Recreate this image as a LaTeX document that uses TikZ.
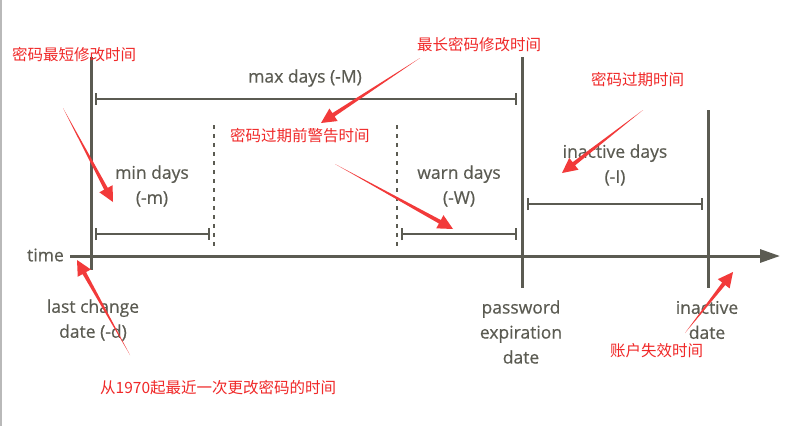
\documentclass[tikz,border=0pt]{standalone}
\usepackage{fontspec}
\setmainfont{Open Sans}
\newfontfamily\lblfont{Open Sans}[FakeBold=0.5]
\newfontfamily\cjk{Noto Sans CJK SC}
\usetikzlibrary{calc,arrows.meta}
\definecolor{axgray}{HTML}{5B5B52}
\definecolor{redtxt}{HTML}{F02828}
\definecolor{redarr}{HTML}{F23A3A}
\newcommand{\RedArrow}[2]{%
  \coordinate (hb) at ($(#2)!15pt!(#1)$);
  \fill[redarr] (#1) -- ($(hb)!2pt!90:(#2)$) -- ($(hb)!7.5pt!90:(#2)$) -- (#2)
    -- ($(hb)!7.5pt!-90:(#2)$) -- ($(hb)!2pt!-90:(#2)$) -- cycle;}
\begin{document}
\begin{tikzpicture}[x=1pt,y=-1pt,
  axis/.style={draw=axgray,line width=3pt},
  bar/.style={draw=axgray,line width=2pt,{Bar[width=12pt]}-{Bar[width=12pt]}},
  dots/.style={draw=axgray,line width=2pt,dash pattern=on 4pt off 5pt},
  lbl/.style={text=axgray,font=\lblfont\fontsize{17.5}{25}\selectfont,align=center,inner sep=0pt},
  note/.style={text=redtxt,font=\cjk\fontsize{15.5}{18}\selectfont,inner sep=0pt,anchor=west},
]
\useasboundingbox (0,0) rectangle (799,426);
\fill[white] (0,0) rectangle (799,426);
\draw[gray!55, line width=2pt] (1,0) -- (1,426);

% time axis
\coordinate (t0) at (70,256);
\coordinate (t1) at (780,256);
\draw[axis,-{Triangle[length=20pt,width=13pt]}] (t0) -- (t1);

% vertical markers
\coordinate (v1a) at (91,57);  \coordinate (v1b) at (91,270);
\coordinate (v2a) at (522,57); \coordinate (v2b) at (522,288);
\coordinate (v3a) at (708,110);\coordinate (v3b) at (708,288);
\draw[axis] (v1a) -- (v1b);
\draw[axis] (v2a) -- (v2b);
\draw[axis] (v3a) -- (v3b);

% dotted lines
\coordinate (d1a) at (214,125); \coordinate (d1b) at (214,246);
\coordinate (d2a) at (397,125); \coordinate (d2b) at (397,246);
\draw[dots] (d1a) -- (d1b);
\draw[dots] (d2a) -- (d2b);

% interval bars
\coordinate (m1) at (95,99);  \coordinate (m2) at (517,99);
\coordinate (n1) at (95,234); \coordinate (n2) at (210,234);
\coordinate (w1) at (401,234);\coordinate (w2) at (517,234);
\coordinate (i1) at (527,204);\coordinate (i2) at (703,204);
\draw[bar] (m1) -- (m2);
\draw[bar] (n1) -- (n2);
\draw[bar] (w1) -- (w2);
\draw[bar] (i1) -- (i2);

% labels
\node[lbl] (maxl) at (305,78) {max days (-M)};
\node[lbl] (minl) at (152,186) {min days\\(-m)};
\node[lbl] (warnl) at (459,186) {warn days\\(-W)};
\node[lbl] (inal) at (615,165) {inactive days\\(-I)};
\node[lbl] (timel) at (45.5,255) {time};
\node[lbl] (lastl) at (93,320) {last change\\date (-d)};
\node[lbl] (pwdl) at (521,332) {password\\expiration\\date};
\node[lbl] (inadl) at (707,320) {inactive\\date};

% red notes
\node[note] (r1) at (12,55) {密码最短修改时间};
\node[note] (r2) at (417,45) {最长密码修改时间};
\node[note] (r3) at (230,136) {密码过期前警告时间};
\node[note] (r4) at (591,80) {密码过期时间};
\node[note] (r5) at (100,388) {从1970起最近一次更改密码的时间};
\node[note] (r6) at (610,351) {账户失效时间};

% red arrows
\coordinate (a1s) at (63,108);  \coordinate (a1e) at (113,202);
\coordinate (a2s) at (420,58);  \coordinate (a2e) at (321,123);
\coordinate (a3s) at (335,164); \coordinate (a3e) at (453,229);
\coordinate (a4s) at (643,110); \coordinate (a4e) at (562,173);
\coordinate (a5s) at (130,355); \coordinate (a5e) at (77,260);
\coordinate (a6s) at (685,333); \coordinate (a6e) at (733,272);
\RedArrow{a1s}{a1e}
\RedArrow{a2s}{a2e}
\RedArrow{a3s}{a3e}
\RedArrow{a4s}{a4e}
\RedArrow{a5s}{a5e}
\RedArrow{a6s}{a6e}
\end{tikzpicture}
\end{document}
